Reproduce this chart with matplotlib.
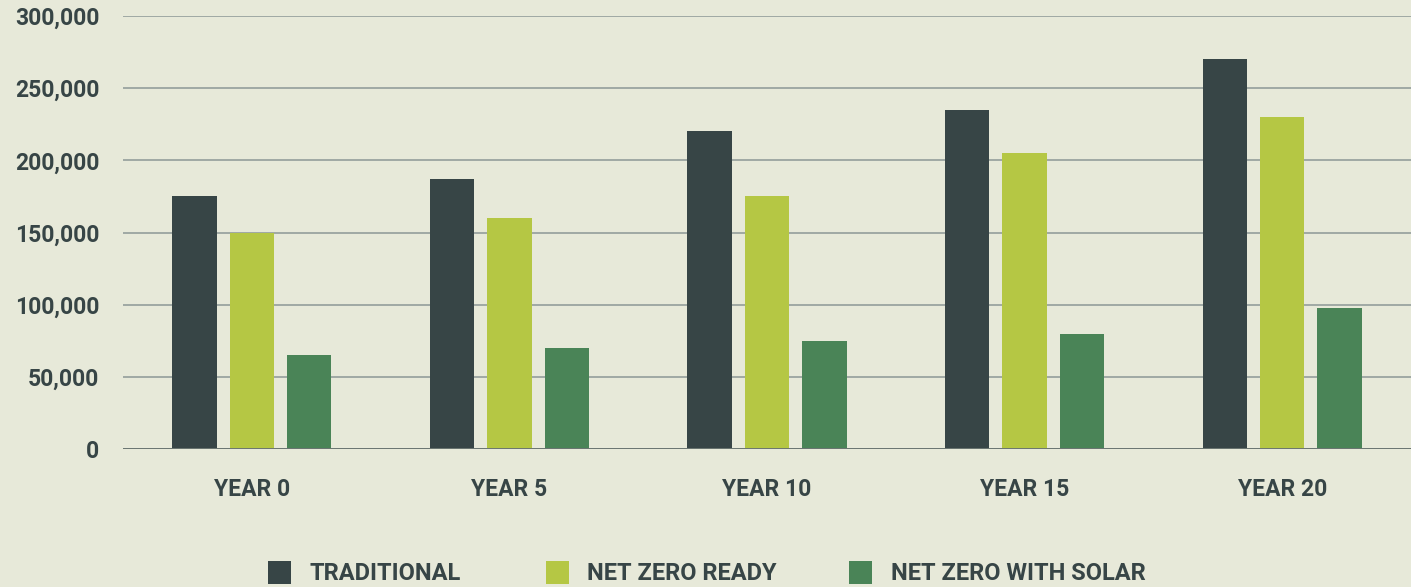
import matplotlib.pyplot as plt
import numpy as np
from matplotlib.patches import Rectangle

# values
years = ["YEAR 0", "YEAR 5", "YEAR 10", "YEAR 15", "YEAR 20"]
traditional = [175000, 187000, 220000, 235000, 270000]
net_zero_ready = [150000, 160000, 175000, 205000, 230000]
net_zero_solar = [65000, 70000, 75000, 80000, 98000]
series_names = ["TRADITIONAL", "NET ZERO READY", "NET ZERO WITH SOLAR"]
y_ticks = [0, 50000, 100000, 150000, 200000, 250000, 300000]

BG = "#e7e9d9"
TEXT = "#374546"
COLORS = ["#374546", "#b5c744", "#4a8457"]
FONT = "Roboto"

fig = plt.figure(figsize=(14.11, 5.87), dpi=100, facecolor=BG)
ax = fig.add_axes([123 / 1411, 1 - 449 / 587, 1 - 123 / 1411, (449 - 16) / 587])
ax.set_facecolor(BG)

x = np.arange(len(years))
width = 0.172
step = 0.223
for i, (vals, color) in enumerate(zip([traditional, net_zero_ready, net_zero_solar], COLORS)):
    ax.bar(x + (i - 1) * step, vals, width=width, color=color, zorder=3)

ax.set_xlim(-0.5, 4.5)
ax.set_ylim(0, 300000)
ax.set_yticks(y_ticks)
ax.set_yticklabels([f"{v:,}" for v in y_ticks])
ax.set_xticks(x)
ax.set_xticklabels(years)
for lab in ax.get_yticklabels() + ax.get_xticklabels():
    lab.set_fontfamily(FONT)
    lab.set_fontweight("bold")
    lab.set_fontsize(16.5)
    lab.set_color(TEXT)
ax.tick_params(axis="y", length=0, pad=17)
ax.tick_params(axis="x", length=0, pad=21)

ax.grid(axis="y", color="#8c9896", linewidth=1.1, zorder=1)
ax.axhline(0, color="#6b7672", linewidth=1.4, zorder=4)
for s in ax.spines.values():
    s.set_visible(False)

# legend along the bottom
W, H = 1411, 587
sq = 23
for name, color, sx, tx in zip(series_names, COLORS, [268, 546, 849], [309, 587, 891]):
    fig.patches.append(Rectangle((sx / W, 1 - 584 / H), sq / W, sq / H,
                                 transform=fig.transFigure, facecolor=color,
                                 edgecolor="none"))
    fig.text(tx / W, 1 - 573 / H, name, ha="left", va="center",
             fontfamily=FONT, fontweight="bold", fontsize=17, color=TEXT)

fig.savefig("out.png", dpi=100, facecolor=BG)
